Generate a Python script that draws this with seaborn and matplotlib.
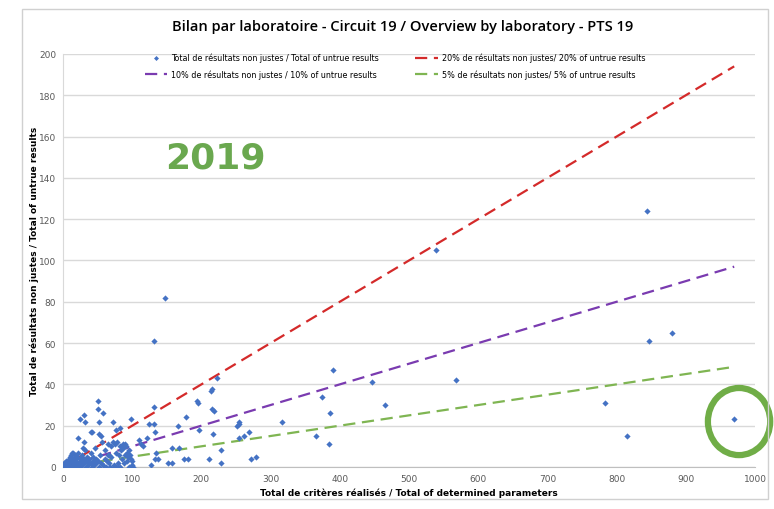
import numpy as np
import pandas as pd
import matplotlib
matplotlib.use("Agg")
import matplotlib.pyplot as plt
import seaborn as sns
from matplotlib.patches import Ellipse, Rectangle

# Datos: total de criterios vs total de resultados no justos
criteres = [1, 2, 3, 4, 5, 6, 7, 8, 9, 10, 10, 11, 12, 13, 14, 15, 16, 17, 18, 19,
            20, 21, 22, 23, 24, 25, 26, 27, 28, 29, 30, 30, 31, 32, 33, 34, 35, 36, 37, 38,
            40, 40, 41, 42, 43, 44, 45, 46, 47, 48, 50, 52, 53, 55, 55, 57, 58, 60, 61, 62,
            63, 65, 66, 67, 68, 70, 70, 72, 73, 74, 75, 76, 77, 78, 79, 80, 81, 82, 83, 84,
            85, 86, 87, 88, 89, 90, 91, 92, 93, 94, 95, 96, 97, 98, 100, 100,
            1, 2, 3, 5, 8, 12, 15, 18, 20, 22, 25, 26, 30, 32, 42, 50, 50, 52, 52, 58,
            65, 72, 77, 83, 98, 101, 110, 113, 116, 122, 125, 131, 132, 133, 134, 133, 127, 137,
            147, 131, 152, 157, 158, 168, 175, 181, 178, 166, 196, 193, 195, 216, 214, 216,
            218, 217, 211, 223, 228, 229, 254, 255, 252, 255, 262, 269, 271, 279,
            316, 365, 375, 384, 386, 390, 447, 465, 539, 568, 784, 815, 844, 847, 880, 970]
non_justes = [0, 1, 0, 2, 1, 0, 3, 1, 2, 0, 5, 6, 3, 7, 1, 4, 2, 6, 0, 3,
              5, 1, 7, 2, 4, 0, 3, 6, 1, 9, 12, 4, 2, 8, 0, 5, 3, 1, 2, 4,
              17, 7, 2, 0, 3, 5, 1, 9, 2, 4, 3, 0, 6, 15, 2, 12, 1, 8, 4, 0,
              3, 11, 6, 2, 0, 10, 5, 12, 0, 1, 11, 0, 7, 12, 0, 2, 6, 10, 0, 8,
              4, 9, 11, 2, 11, 6, 10, 7, 3, 5, 8, 0, 6, 4, 3, 1,
              2, 0, 1, 3, 4, 0, 7, 5, 2, 14, 23, 5, 25, 22, 17, 32, 28, 22, 16, 26,
              6, 22, 18, 19, 23, 0, 13, 11, 10, 14, 21, 21, 29, 17, 7, 4, 1, 4,
              82, 61, 2, 2, 9, 9, 4, 4, 24, 20, 18, 32, 31, 38, 37, 28,
              27, 16, 4, 43, 8, 2, 21, 22, 20, 14, 15, 17, 4, 5,
              22, 15, 34, 11, 26, 47, 41, 30, 105, 42, 31, 15, 124, 61, 65, 23]

taux = [0.20, 0.10, 0.05]
couleurs = ["#d42a2a", "#7a3bb0", "#7fb552"]
noms_lignes = ["20% de résultats non justes/ 20% of untrue results",
               "10% de résultats non justes / 10% of untrue results",
               "5% de résultats non justes/ 5% of untrue results"]
nom_points = "Total de résultats non justes / Total of untrue results"

df = pd.DataFrame({"x": criteres, "y": non_justes})

fig = plt.figure(figsize=(7.74, 5.10), dpi=100)
ax = fig.add_axes([0.0814, 0.0824, 0.894, 0.8098])

# cadre gris autour du graphique
fig.patches.append(Rectangle((0.028, 0.02), 0.964, 0.96, transform=fig.transFigure,
                             fill=False, edgecolor="#d0d0d0", lw=1))

sns.scatterplot(data=df, x="x", y="y", ax=ax, marker="D", s=10, color="#4472c4",
                edgecolor="#4472c4", linewidth=0, label=nom_points, zorder=3)

x_max = max(criteres)
for t, c, nom in zip(taux, couleurs, noms_lignes):
    sns.lineplot(x=[0, x_max], y=[0, t * x_max], ax=ax, color=c, lw=1.6,
                 linestyle=(0, (5.5, 3)), label=nom, zorder=2)

ax.set_xlim(0, 1000)
ax.set_ylim(0, 200)
ax.set_xticks(range(0, 1001, 100))
ax.set_yticks(range(0, 201, 20))
ax.grid(axis="y", color="#d9d9d9", lw=1)
ax.grid(axis="x", visible=False)
ax.set_axisbelow(True)
for s in ["top", "right"]:
    ax.spines[s].set_visible(False)
ax.spines["left"].set_color("#d9d9d9")
ax.spines["bottom"].set_color("#bfbfbf")
ax.tick_params(labelsize=6.5, colors="#595959", length=0, pad=5)

ax.set_xlabel("Total de critères réalisés / Total of determined parameters",
              fontsize=6.5, fontweight="bold", labelpad=3)
ax.set_ylabel("Total de résultats non justes / Total of untrue results",
              fontsize=6.5, fontweight="bold", labelpad=0)

fig.suptitle("Bilan par laboratoire - Circuit 19 / Overview by laboratory - PTS 19",
             x=0.52, y=0.96, fontsize=10.5, fontweight="semibold", family="Open Sans")

# légende : colonne 1 = points, 10% ; colonne 2 = 20%, 5%
h, l = ax.get_legend_handles_labels()
ordre = [0, 2, 1, 3]
ax.legend([h[i] for i in ordre], [l[i] for i in ordre], ncol=2, loc="upper center",
          bbox_to_anchor=(0.48, 1.02), frameon=False, fontsize=5.8,
          columnspacing=4.5, handlelength=2.8, handletextpad=0.5,
          labelspacing=0.9, markerscale=0.8)

ax.text(220, 150, "2019", color="#6aa84f", fontsize=26, fontweight="bold",
        ha="center", va="center")

ax.add_patch(Ellipse((977, 22), 90, 32.5, fill=False, edgecolor="#70ad47",
                     lw=4.5, clip_on=False, zorder=4))

plt.savefig("out.png", dpi=100)
